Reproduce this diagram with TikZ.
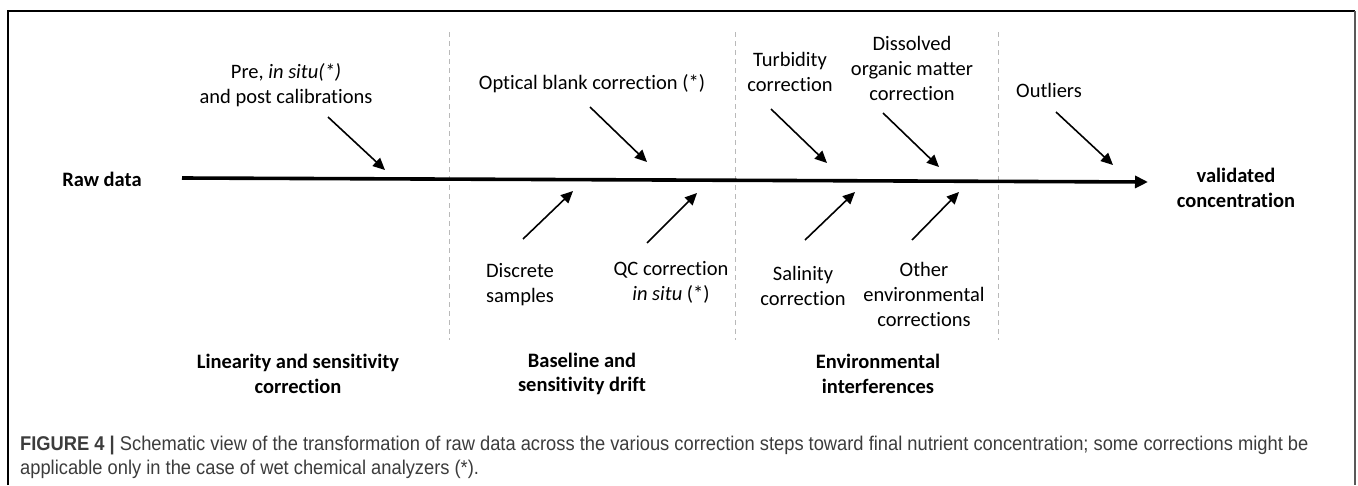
\documentclass[tikz,border=0pt]{standalone}
\usepackage{fontspec}
\setmainfont{Carlito}[Ligatures=NoCommon]
\newfontfamily\capfont[FakeStretch=0.92]{Liberation Sans}
\usetikzlibrary{arrows.meta}
\definecolor{capgray}{RGB}{60,60,60}

\begin{document}
\begin{tikzpicture}[x=1pt,y=-1pt,
  every node/.style={align=center,inner sep=0pt,font=\fontsize{20.5}{25}\selectfont},
  heading/.style={font=\fontsize{20.5}{24.5}\selectfont\bfseries},
  feed/.style={line width=1.6pt,-{Triangle[length=12,width=11]}},
  axis/.style={line width=3.6pt,-{Triangle[length=13,width=12]}},
  divider/.style={gray!55,line width=0.9pt,dash pattern=on 5pt off 4pt}]
  \useasboundingbox (0,0) rectangle (1358,485);
  % frame
  \draw[line width=1.3pt] (8,485) -- (8,11) -- (1355,11);
  \draw[line width=1.8pt,gray!70!black] (1355,11) -- (1355,485);

  % stages
  \draw[divider] (449,32) -- (449,340);
  \draw[divider] (735,32) -- (735,340);
  \draw[divider] (998,32) -- (998,340);

  \node[heading] (raw) at (102,179) {Raw data};
  \node[heading] (valid) at (1236,188) {validated\\concentration};
  \coordinate (m0) at (182,178);
  \coordinate (m1) at (1148,182);
  \draw[axis] (m0) -- (m1);

  \node (pre) at (286,85) {Pre, \textit{in situ(*)}\\and post calibrations};
  \node (optical) at (592,84) {Optical blank correction (*)};
  \node (turb) at (790,72) {Turbidity\\correction};
  \node (dom) at (912,68) {Dissolved\\organic matter\\correction};
  \node (outl) at (1049,90) {Outliers};

  \node (disc) at (520,285) {Discrete\\samples};
  \node (qc) at (671,282) {QC correction\\\textit{in situ} (*)};
  \node (sal) at (803,286) {Salinity\\correction};
  \node (other) at (924,294) {Other\\environmental\\corrections};

  \node[heading] (lin) at (298,374) {Linearity and sensitivity\\correction};
  \node[heading] (base) at (582,374) {Baseline and\\sensitivity drift};
  \node[heading] (env) at (878,374) {Environmental\\interferences};

  % arrows from above
  \coordinate (p0) at (328,117); \coordinate (p1) at (385,170);
  \coordinate (o0) at (590,107); \coordinate (o1) at (647,162);
  \coordinate (t0) at (771,109); \coordinate (t1) at (827,163);
  \coordinate (d0) at (883,113); \coordinate (d1) at (939,167);
  \coordinate (u0) at (1056,112); \coordinate (u1) at (1113,165);
  \draw[feed] (p0) -- (p1);
  \draw[feed] (o0) -- (o1);
  \draw[feed] (t0) -- (t1);
  \draw[feed] (d0) -- (d1);
  \draw[feed] (u0) -- (u1);
  % arrows from below
  \coordinate (s0) at (523,239); \coordinate (s1) at (573,191);
  \coordinate (q0) at (647,243); \coordinate (q1) at (697,193);
  \coordinate (l0) at (805,240); \coordinate (l1) at (855,192);
  \coordinate (e0) at (912,240); \coordinate (e1) at (959,192);
  \draw[feed] (s0) -- (s1);
  \draw[feed] (q0) -- (q1);
  \draw[feed] (l0) -- (l1);
  \draw[feed] (e0) -- (e1);

  % caption
  \node[anchor=north west,align=left,text=capgray,
    font=\capfont\fontsize{19.9}{23.5}\selectfont] (cap) at (20,436)
    {\textbf{FIGURE 4 |} Schematic view of the transformation of raw data across the various correction steps toward final nutrient concentration; some corrections might be\\
     applicable only in the case of wet chemical analyzers (*).};
\end{tikzpicture}
\end{document}
